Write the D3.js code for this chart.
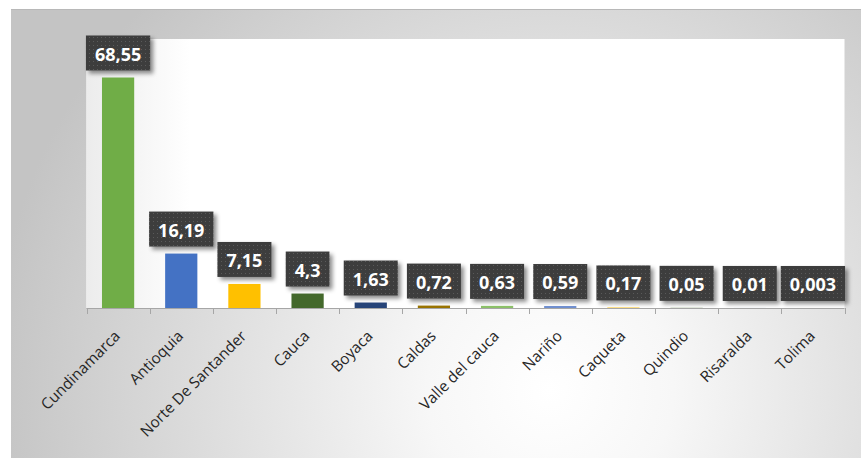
<!DOCTYPE html>
<html><head><meta charset="utf-8">
<script src="https://cdn.jsdelivr.net/npm/d3@7"></script>
<style>body{margin:0;background:#fff}svg{display:block}</style>
</head><body>
<script>
const categories = ["Cundinamarca","Antioquia","Norte De Santander","Cauca","Boyaca","Caldas","Valle del cauca","Nariño","Caqueta","Quindio","Risaralda","Tolima"];
const values = [68.55,16.19,7.15,4.3,1.63,0.72,0.63,0.59,0.17,0.05,0.01,0.003];
const valueLabels = ["68,55","16,19","7,15","4,3","1,63","0,72","0,63","0,59","0,17","0,05","0,01","0,003"];
const colors = ["#70ad47","#4472c4","#ffc000","#43682b","#264478","#997300","#8cc168","#6f8fd0","#ffcd33","#567f3a","#3a5fa3","#cc9a00"];

const W = 861, H = 458;
const plot = {x0: 86.5, x1: 844.5, y0: 39, y1: 308};

const svg = d3.select("body").append("svg").attr("width", W).attr("height", H);
const defs = svg.append("defs");

const rg = defs.append("radialGradient").attr("id","bg").attr("gradientUnits","userSpaceOnUse")
  .attr("cx",550).attr("cy",390).attr("r",560);
rg.append("stop").attr("offset","0%").attr("stop-color","#ffffff");
rg.append("stop").attr("offset","22%").attr("stop-color","#f7f7f7");
rg.append("stop").attr("offset","100%").attr("stop-color","#c4c4c4");

const lg = defs.append("linearGradient").attr("id","plotShade").attr("gradientUnits","userSpaceOnUse")
  .attr("x1",plot.x0).attr("x2",190).attr("y1",0).attr("y2",0);
lg.append("stop").attr("offset","0%").attr("stop-color","#ececec");
lg.append("stop").attr("offset","100%").attr("stop-color","#ffffff");

const pat = defs.append("pattern").attr("id","dots").attr("patternUnits","userSpaceOnUse")
  .attr("width",4).attr("height",4);
pat.append("rect").attr("width",4).attr("height",4).attr("fill","#3d3d3d");
pat.append("rect").attr("x",1).attr("y",1).attr("width",1).attr("height",1).attr("fill","#5a5a5a");

const sh = defs.append("filter").attr("id","shadow").attr("x","-20%").attr("y","-30%").attr("width","150%").attr("height","170%");
sh.append("feDropShadow").attr("dx",3).attr("dy",3).attr("stdDeviation",2.2)
  .attr("flood-color","#000").attr("flood-opacity",0.45);

// background
svg.append("rect").attr("x",11).attr("y",9).attr("width",W-11).attr("height",H-9).attr("fill","url(#bg)");
svg.append("line").attr("x1",11).attr("x2",W).attr("y1",9.5).attr("y2",9.5).attr("stroke","#b8b8b8").attr("stroke-width",1);

// plot area
svg.append("rect").attr("x",plot.x0).attr("y",plot.y0).attr("width",plot.x1-plot.x0).attr("height",plot.y1-plot.y0).attr("fill","#fff");
svg.append("rect").attr("x",plot.x0).attr("y",plot.y0).attr("width",190-plot.x0).attr("height",plot.y1-plot.y0).attr("fill","url(#plotShade)");

const x = d3.scaleBand().domain(categories).range([plot.x0, plot.x1]).paddingInner(0.49).paddingOuter(0.245);
const y = d3.scaleLinear().domain([0,80]).range([plot.y1, plot.y0]);

const data = categories.map((c,i)=>({c, v: values[i], label: valueLabels[i], color: colors[i]}));

// bars
svg.append("g").selectAll("rect").data(data).join("rect")
  .attr("x", d=>x(d.c)).attr("width", x.bandwidth())
  .attr("y", d=>y(d.v)).attr("height", d=>plot.y1 - y(d.v))
  .attr("fill", d=>d.color);

// axis
const step = x.step();
const ticks = d3.range(categories.length+1).map(i=>plot.x0 + i*step);
const ax = svg.append("g");
ax.append("line").attr("x1",plot.x0).attr("x2",plot.x1).attr("y1",plot.y1+0.5).attr("y2",plot.y1+0.5)
  .attr("stroke","#a6a6a6").attr("stroke-width",1);
ax.selectAll("line.t").data(ticks).join("line").attr("class","t")
  .attr("x1",d=>Math.round(d)+0.5).attr("x2",d=>Math.round(d)+0.5).attr("y1",plot.y1).attr("y2",plot.y1+6)
  .attr("stroke","#a6a6a6").attr("stroke-width",1);

// category labels
svg.append("g").selectAll("text").data(data).join("text")
  .attr("transform", d=>`translate(${x(d.c)+x.bandwidth()/2+3},${plot.y1+29}) rotate(-45)`)
  .attr("text-anchor","end")
  .attr("font-family","'Open Sans', sans-serif").attr("font-size",15.3).attr("fill","#262626")
  .text(d=>d.c);

// data labels
const lbl = svg.append("g").selectAll("g").data(data).join("g");
lbl.each(function(d){
  const g = d3.select(this);
  const cx = x(d.c) + x.bandwidth()/2;
  const bottom = y(d.v) - 7;
  const t = g.append("text").attr("x",cx).attr("y",bottom-10)
    .attr("text-anchor","middle").attr("font-family","'Open Sans', sans-serif")
    .attr("font-weight","bold").attr("font-size",18).attr("fill","#fff").text(d.label);
  const w = t.node().getComputedTextLength() + 18;
  g.insert("rect","text").attr("x",cx - w/2).attr("y",bottom-35).attr("width",w).attr("height",35)
    .attr("fill","url(#dots)").attr("filter","url(#shadow)");
});
</script>
</body></html>
